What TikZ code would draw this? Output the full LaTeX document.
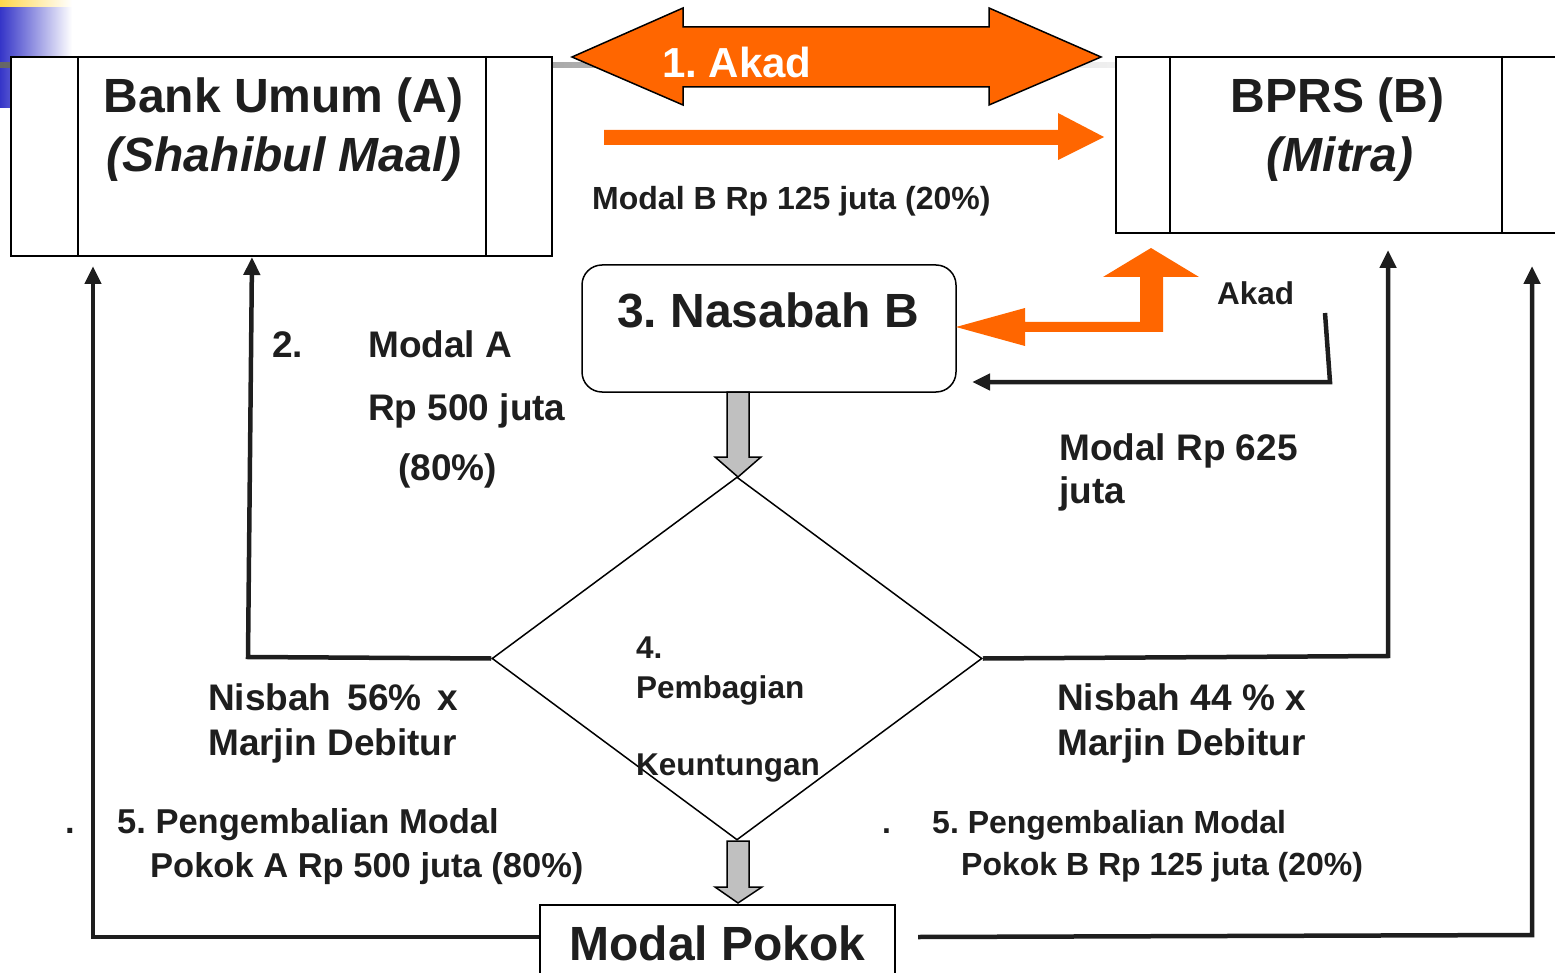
\documentclass[tikz,border=0pt]{standalone}
\usepackage{fontspec}
\setmainfont{Liberation Sans}
\usetikzlibrary{arrows.meta,shapes.geometric}
\definecolor{akad}{HTML}{FF6600}
\definecolor{txt}{HTML}{1E1E1E}
\definecolor{panah}{HTML}{C0C0C0}
\definecolor{header}{HTML}{3535C8}
\frenchspacing
\begin{document}
\begin{tikzpicture}[x=1pt,y=-1pt]
		\tikzstyle{every node}=[inner sep=0pt, text=txt]
		\tikzstyle{judul}=[font=\fontsize{48pt}{59pt}\selectfont\bfseries]
		\tikzstyle{teks}=[anchor=base west, font=\fontsize{37pt}{44pt}\selectfont\bfseries]
		\tikzstyle{teksk}=[anchor=base west, font=\fontsize{34.5pt}{42pt}\selectfont\bfseries]
		\tikzstyle{tekskb}=[anchor=base west, font=\fontsize{32pt}{40pt}\selectfont\bfseries]
		\tikzstyle{tekskk}=[anchor=base west, font=\fontsize{31.5pt}{37pt}\selectfont\bfseries]
		\tikzstyle{alur}=[line width=4.5pt, draw=txt, -{Triangle[length=18pt,width=16pt]}]
		\tikzstyle{blokpanah}=[fill=panah, draw=black, line width=1.5pt]
		
		\useasboundingbox (0,0) rectangle (1555,973);
		\clip (0,0) rectangle (1555,973);
		
		% template header
		\shade[left color=orange!45!yellow!70, right color=white] (0,0) rectangle (72,8);
		\shade[left color=header, right color=white] (0,8) rectangle (72,108);
		\shade[left color=gray!80!black, right color=gray!12] (0,63) rectangle (1116,68);
		
		% kotak bank
		\node[draw, line width=2pt, fill=white, minimum width=541pt, minimum height=199pt] (bankA) at (281.5,156.5) {};
		\draw[line width=1.5pt] ([xshift=68pt]bankA.north west) -- ([xshift=68pt]bankA.south west);
		\draw[line width=1.5pt] ([xshift=-67pt]bankA.north east) -- ([xshift=-67pt]bankA.south east);
		\node[judul, anchor=base] (bankAnama) at (283.5,113) {Bank Umum (A)};
		\node[judul, anchor=base] (bankAperan) at (284,172) {\itshape (Shahibul Maal)};
		
		\node[draw, line width=2pt, fill=white, minimum width=560pt, minimum height=176pt] (bprsB) at (1396,145) {};
		\draw[line width=1.5pt] ([xshift=55pt]bprsB.north west) -- ([xshift=55pt]bprsB.south west);
		\draw[line width=1.5pt] ([xshift=387pt]bprsB.north west) -- ([xshift=387pt]bprsB.south west);
		\node[judul, anchor=base] (bprsBnama) at (1337.5,113) {BPRS (B)};
		\node[judul, anchor=base] (bprsBperan) at (1340,172) {\itshape (Mitra)};
		
		% 1. akad
		\draw[fill=akad, line width=1.5pt] (572,57) -- (683,8) -- (683,27) -- (989,27) -- (989,8) -- (1101,57)
		-- (989,105) -- (989,87) -- (683,87) -- (683,105) -- cycle;
		\node[anchor=base west, text=white, font=\fontsize{42pt}{49pt}\selectfont\bfseries] (akadSatu) at (662,78) {1. Akad};
		\fill[akad] (604,130) -- (1058,130) -- (1058,113) -- (1104,137) -- (1058,160) -- (1058,145) -- (604,145) -- cycle;
		\node[anchor=base west, font=\fontsize{32pt}{38pt}\selectfont\bfseries] (modalB) at (592,210) {Modal B Rp 125 juta (20\%)};
		
		% nasabah
		\node[draw, line width=1.5pt, rounded corners=20pt, minimum width=374pt, minimum height=127pt] (nasabah) at (769,328.5) {};
		\node[judul, anchor=base] (nasabahnama) at (768,328) {3. Nasabah B};
		\fill[akad] (956,327) -- (1025,308) -- (1025,322) -- (1140,322) -- (1140,277) -- (1103,277) -- (1151,248)
		-- (1199,277) -- (1163,277) -- (1163,332) -- (1025,332) -- (1025,346) -- cycle;
		\node[tekskk] (akadDua) at (1217,305) {Akad};
		\coordinate (akadAwal) at (1325,313);
		\draw[alur] (akadAwal) -- (1330,382) -- (972,382);
		\node[teks] (modal625) at (1059,460) {Modal Rp 625};
		\node[teks] (modal625b) at (1059,503) {juta};
		
		% pembagian keuntungan
		\draw[blokpanah] (727,392) -- (749,392) -- (749,457) -- (761,457) -- (738,477) -- (715,457) -- (727,457) -- cycle;
		\node[diamond, draw, line width=1.5pt, minimum width=490pt, minimum height=363pt] (bagi) at (737,658.5) {};
		\node[tekskk] (bagi1) at (636,658) {4.};
		\node[tekskk] (bagi2) at (636,698) {Pembagian};
		\node[tekskk] (bagi3) at (636,775) {Keuntungan};
		\draw[blokpanah] (727,841) -- (749,841) -- (749,887) -- (762,887) -- (738,903) -- (715,887) -- (727,887) -- cycle;
		
		% modal pokok
		\node[draw, line width=1.5pt, fill=white, minimum width=355pt, minimum height=100pt] (pokok) at (717.5,955) {};
		\node[judul, anchor=base] (pokoknama) at (717.5,960) {Modal Pokok};
		
		% alur dana
		\draw[alur] (bagi.west) -- (248,657) -- (252,0 |- bankA.south);
		\draw[alur] (bagi.east) -- (1388,656) -- (1388,250);
		\draw[alur] (pokok.west |- 0,937) -- (93,937) -- (93,266);
		\coordinate (pokokKanan) at (918,937);
		\draw[alur] (pokokKanan) -- (1532,935) -- (1532,266);
		
		\node[teks] (modalA0) at (272,358) {2.};
		\node[teks] (modalA1) at (368,358) {Modal A};
		\node[teks] (modalA2) at (368,420) {Rp 500 juta};
		\node[teks] (modalA3) at (398,480) {(80\%)};
		
		\node[teks] (nisbahA1) at (208,710) {Nisbah\hspace{16pt}56\%\hspace{16pt}x};
		\node[teks] (nisbahA2) at (208,755) {Marjin Debitur};
		\node[teks] (nisbahB1) at (1057,710) {Nisbah 44 \% x};
		\node[teks] (nisbahB2) at (1057,755) {Marjin Debitur};
		
		\node[teksk] (titikA) at (65,833) {.};
		\node[teksk] (kembaliA1) at (117,833) {5. Pengembalian Modal};
		\node[teksk] (kembaliA2) at (150,877) {Pokok A Rp 500 juta (80\%)};
		\node[tekskb] (titikB) at (882,833) {.};
		\node[tekskb] (kembaliB1) at (932,833) {5. Pengembalian Modal};
		\node[tekskb] (kembaliB2) at (961,875) {Pokok B Rp 125 juta (20\%)};
		
	\end{tikzpicture}
\end{document}
